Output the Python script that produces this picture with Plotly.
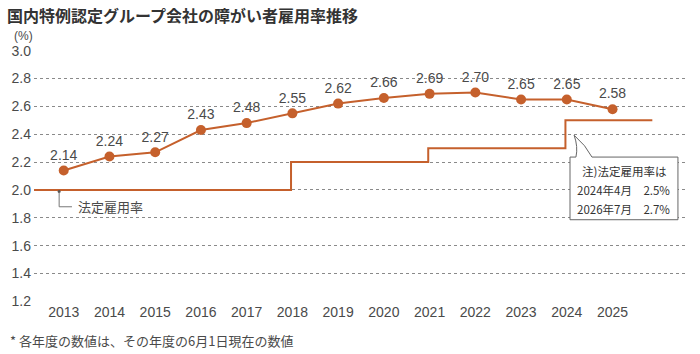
import plotly.graph_objects as go

years = [2013, 2014, 2015, 2016, 2017, 2018, 2019, 2020, 2021, 2022, 2023, 2024, 2025]
rates = [2.14, 2.24, 2.27, 2.43, 2.48, 2.55, 2.62, 2.66, 2.69, 2.70, 2.65, 2.65, 2.58]
legal_x = [2012.35, 2017.97, 2020.97, 2023.97, 2025.87]
legal_y = [2.0, 2.2, 2.3, 2.5, 2.5]
y_ticks = [1.2, 1.4, 1.6, 1.8, 2.0, 2.2, 2.4, 2.6, 2.8, 3.0]

ORANGE = "#c5602c"
FONT = "Noto Sans CJK JP"
NUMFONT = "Liberation Sans"
TXT = "#4a4a4a"

fig = go.Figure()
fig.add_trace(go.Scatter(x=legal_x, y=legal_y, mode="lines", line=dict(color=ORANGE, width=2, shape="hv"),
                         hoverinfo="skip", showlegend=False))
fig.add_trace(go.Scatter(x=years, y=rates, mode="lines+markers+text",
                         line=dict(color=ORANGE, width=2),
                         marker=dict(color=ORANGE, size=10),
                         text=[f"{v:.2f}" for v in rates], textposition="top center",
                         textfont=dict(family=NUMFONT, size=14, color=TXT), showlegend=False))

# bracket for 法定雇用率
fig.add_shape(type="path", path="M 2012.9 1.986 L 2012.9 1.879 L 2013.18 1.879",
              line=dict(color="#777777", width=1))
fig.add_trace(go.Scatter(x=[2012.9], y=[1.988], mode="markers", marker=dict(color="#555", size=3),
                         hoverinfo="skip", showlegend=False))
fig.add_annotation(x=2013.27, y=1.879, text="法定雇用率", showarrow=False, xanchor="left",
                   font=dict(family=FONT, size=13, color=TXT))

# callout box
fig.add_shape(type="path",
              path="M 2024.07 2.236 L 2024.2 2.236 Q 2024.25 2.31 2024.16 2.393 Q 2024.42 2.32 2024.55 2.236 "
                   "L 2026.43 2.236 L 2026.43 1.786 L 2024.07 1.786 Z",
              line=dict(color="#666666", width=1), fillcolor="white", layer="above")
fig.add_annotation(x=2025.25, y=2.136, text="注)法定雇用率は", showarrow=False,
                   font=dict(family=FONT, size=11.5, color="#333"))
fig.add_annotation(x=2025.25, y=2.0, text="2024年4月　2.5%", showarrow=False,
                   font=dict(family=FONT, size=11.5, color="#333"))
fig.add_annotation(x=2025.25, y=1.864, text="2026年7月　2.7%", showarrow=False,
                   font=dict(family=FONT, size=11.5, color="#333"))

# title, unit, footnote
fig.add_annotation(xref="paper", yref="paper", x=-0.045, y=1.0, yshift=35, xanchor="left", yanchor="middle",
                   text="<b>国内特例認定グループ会社の障がい者雇用率推移</b>", showarrow=False,
                   font=dict(family=FONT, size=16, color="#333"))
fig.add_annotation(xref="paper", yref="paper", x=-0.033, y=1.0, yshift=14, xanchor="left", yanchor="middle",
                   text="(%)", showarrow=False, font=dict(family=NUMFONT, size=12, color=TXT))
fig.add_annotation(xref="paper", yref="paper", x=-0.04, y=0.0, yshift=-38, xanchor="left", yanchor="middle",
                   text="* 各年度の数値は、その年度の6月1日現在の数値", showarrow=False,
                   font=dict(family=FONT, size=13, color=TXT))

fig.update_layout(
    width=700, height=354, margin=dict(l=32, r=12, t=50, b=52),
    plot_bgcolor="white", paper_bgcolor="white",
    xaxis=dict(range=[2012.35, 2026.65], tickvals=years, ticktext=[str(y) for y in years],
               showgrid=False, zeroline=False, showline=False,
               tickfont=dict(family=NUMFONT, size=14, color=TXT), ticklen=0),
    yaxis=dict(range=[1.195, 3.005], tickvals=y_ticks, ticktext=[f"{v:.1f}" for v in y_ticks],
               showgrid=True, gridcolor="#8a8a8a", griddash="dot", gridwidth=1, zeroline=False,
               tickfont=dict(family=NUMFONT, size=14, color=TXT), ticks="", ticklabelstandoff=2),
)
fig.write_html("out.html")
